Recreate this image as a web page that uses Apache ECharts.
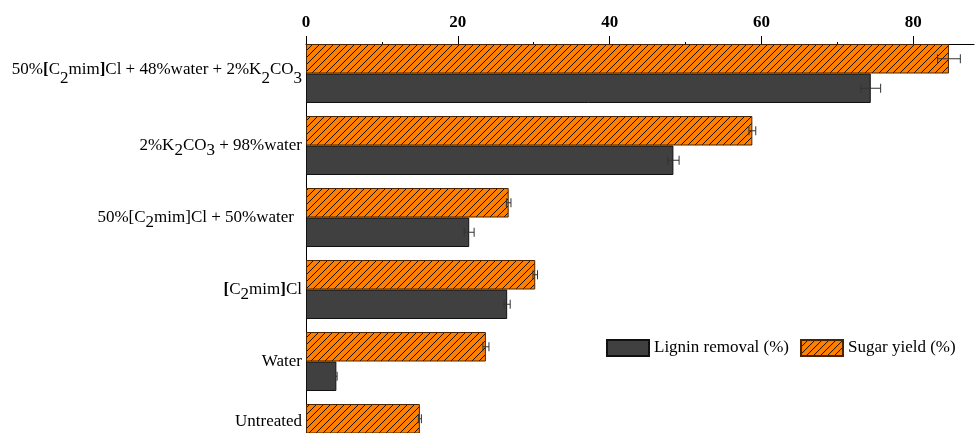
<!DOCTYPE html>
<html>
<head>
<meta charset="utf-8">
<script src="https://cdn.jsdelivr.net/npm/echarts@6/dist/echarts.min.js"></script>
<style>
  html, body { margin: 0; padding: 0; background: #fff; }
  #chart { width: 976px; height: 433px; }
</style>
</head>
<body>
<div id="chart"></div>
<script>
// Pretreatment conditions, top to bottom
const categories = [
  '50%[C2mim]Cl + 48%water + 2%K2CO3',
  '2%K2CO3 + 98%water',
  '50%[C2mim]Cl + 50%water',
  '[C2mim]Cl',
  'Water',
  'Untreated'
];
const ligninRemoval = [74.4, 48.4, 21.5, 26.5, 4.0, 0];
const ligninError   = [1.3, 0.75, 0.65, 0.4, 0.1, 0];
const sugarYield    = [84.7, 58.8, 26.7, 30.2, 23.7, 15.0];
const sugarError    = [1.5, 0.45, 0.3, 0.3, 0.4, 0.2];
const xTicks = [0, 20, 40, 60, 80];
const xMinorTicks = [10, 30, 50, 70];

const SERIF = '"Liberation Serif", "Times New Roman", serif';
const BAR_W = 29.5;

// Diagonal hatch tile for the sugar-yield bars
function hatchPattern(fill, stroke, step) {
  const c = document.createElement('canvas');
  c.width = step; c.height = step;
  const g = c.getContext('2d');
  g.fillStyle = fill;
  g.fillRect(0, 0, step, step);
  g.strokeStyle = stroke;
  g.lineWidth = 1;
  g.beginPath();
  for (const k of [-step, 0, step]) {
    g.moveTo(k - 1, step + 1);
    g.lineTo(k + step + 1, -1);
  }
  g.stroke();
  return c;
}
const orangeHatch = { image: hatchPattern('#ff8000', '#1a0d00', 7), repeat: 'repeat' };

// Chemical formulas: digit right after a capital letter is a subscript
const boldBrackets = [0, 3];
function formulaLabel(name, idx) {
  const base = idx === 5 ? 'u' : (idx === 0 ? 't' : 'n');
  let out = '';
  let buf = '';
  const flush = () => { if (buf) { out += '{' + base + '|' + buf + '}'; buf = ''; } };
  for (let i = 0; i < name.length; i++) {
    const ch = name[i];
    const prev = i > 0 ? name[i - 1] : '';
    if (/\d/.test(ch) && /[A-Z]/.test(prev)) {
      flush(); out += '{s|' + ch + '}';
    } else if ((ch === '[' || ch === ']') && boldBrackets.includes(idx)) {
      flush(); out += '{' + (idx === 0 ? 'bt' : 'b') + '|' + ch + '}';
    } else {
      buf += ch;
    }
  }
  flush();
  if (idx === 2) out += '{gap|}';
  return out;
}

function errorSeries(values, errors, offset) {
  return {
    type: 'custom',
    silent: true,
    z: 5,
    data: values.map((v, i) => [v, i, errors[i]]),
    encode: { x: 0, y: 1 },
    renderItem(params, api) {
      const v = api.value(0), cat = api.value(1), e = api.value(2);
      const lo = api.coord([v - e, cat]);
      const hi = api.coord([v + e, cat]);
      const y = lo[1] + offset;
      const cap = 4.5;
      const style = { stroke: '#333', lineWidth: 1 };
      return {
        type: 'group',
        children: [
          { type: 'line', shape: { x1: lo[0], y1: y, x2: hi[0], y2: y }, style },
          { type: 'line', shape: { x1: lo[0], y1: y - cap, x2: lo[0], y2: y + cap }, style },
          { type: 'line', shape: { x1: hi[0], y1: y - cap, x2: hi[0], y2: y + cap }, style }
        ]
      };
    }
  };
}

const chart = echarts.init(document.getElementById('chart'));
chart.setOption({
  animation: false,
  backgroundColor: '#fff',
  textStyle: { fontFamily: SERIF },
  grid: { left: 306, right: 2, top: 37.5, height: 432, outerBoundsMode: 'none', containLabel: false },
  legend: {
    data: ['Lignin removal (%)', 'Sugar yield (%)'],
    left: 601, top: 334,
    itemWidth: 42, itemHeight: 16, itemGap: 11,
    icon: 'rect',
    textStyle: { fontFamily: SERIF, fontSize: 17, color: '#000' }
  },
  xAxis: [{
    type: 'value', position: 'top', offset: -6.5,
    min: 0, max: 88,
    axisLine: { show: true, lineStyle: { color: '#000', width: 1 } },
    axisTick: { show: true, length: 8, customValues: xTicks, lineStyle: { color: '#000' } },
    axisLabel: { customValues: xTicks, margin: 13, fontFamily: SERIF, fontSize: 17, fontWeight: 'bold', color: '#000' },
    splitLine: { show: false }
  }, {
    type: 'value', position: 'top', offset: -6.5,
    min: 0, max: 88,
    axisLine: { show: false },
    axisTick: { show: true, length: 2, customValues: xMinorTicks, lineStyle: { color: '#000' } },
    axisLabel: { show: false },
    splitLine: { show: false }
  }],
  yAxis: {
    type: 'category', inverse: true,
    data: categories,
    axisLine: { show: true, lineStyle: { color: '#000', width: 1 } },
    axisTick: { show: false },
    axisLabel: {
      margin: 4,
      formatter: (value, idx) => formulaLabel(value, idx),
      rich: {
        n: { fontFamily: SERIF, fontSize: 17, color: '#000', lineHeight: 17 },
        t: { fontFamily: SERIF, fontSize: 17, color: '#000', lineHeight: 17, padding: [0, 0, 8, 0] },
        u: { fontFamily: SERIF, fontSize: 17, color: '#000', lineHeight: 17, padding: [0, 0, 24, 0] },
        b: { fontFamily: SERIF, fontSize: 17, fontWeight: 'bold', color: '#000', lineHeight: 17 },
        bt: { fontFamily: SERIF, fontSize: 17, fontWeight: 'bold', color: '#000', lineHeight: 17, padding: [0, 0, 8, 0] },
        s: { fontFamily: SERIF, fontSize: 17, color: '#000', lineHeight: 17, padding: [11, 0, 0, 0] },
        gap: { width: 8 }
      }
    },
    splitLine: { show: false }
  },
  series: [
    {
      name: 'Sugar yield (%)', type: 'bar',
      barWidth: BAR_W, barGap: '0%',
      data: sugarYield,
      itemStyle: { color: orangeHatch, borderColor: '#4a2400', borderWidth: 1 }
    },
    {
      name: 'Lignin removal (%)', type: 'bar',
      barWidth: BAR_W, barGap: '0%',
      data: ligninRemoval,
      itemStyle: { color: '#404040', borderColor: '#111', borderWidth: 1 }
    },
    errorSeries(sugarYield, sugarError, -BAR_W / 2),
    errorSeries(ligninRemoval, ligninError, BAR_W / 2)
  ]
});
</script>
</body>
</html>
